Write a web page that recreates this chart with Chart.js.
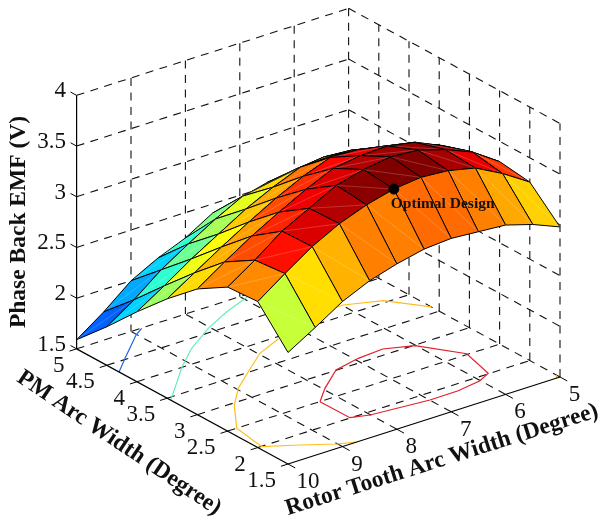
<!DOCTYPE html>
<html><head><meta charset="utf-8">
<script src="https://cdn.jsdelivr.net/npm/chart.js@4"></script>
<style>html,body{margin:0;padding:0;background:#fff}canvas{display:block}</style>
</head><body><canvas id="c" width="601" height="523"></canvas>
<script>
const rotorTicks=[10,9,8,7,6,5];
const pmTicks=[5,4.5,4,3.5,3,2.5,2,1.5];
const zTicks=[1.5,2,2.5,3,3.5,4];
const rotorGrid=[10,9.5,9,8.5,8,7.5,7,6.5,6,5.5,5];
const pmGrid=[5,4.5,4,3.5,3,2.5,2,1.5];
const emfPm50=[1.59,1.78,2.00,2.14,2.25,2.41,2.47,2.54,2.57,2.61,2.58];
const emfPm45=[1.88,2.06,2.27,2.44,2.60,2.74,2.79,2.84,2.87,2.85,2.79];
const emfPm40=[2.19,2.36,2.54,2.70,2.86,2.99,3.10,3.11,3.09,3.04,2.99];
const emfPm35=[2.48,2.65,2.82,2.98,3.13,3.26,3.36,3.35,3.30,3.24,3.14];
const emfPm30=[2.74,2.92,3.09,3.24,3.38,3.50,3.54,3.55,3.50,3.38,3.24];
const emfPm25=[2.92,3.10,3.30,3.44,3.58,3.65,3.69,3.67,3.59,3.48,3.30];
const emfPm20=[2.94,3.13,3.31,3.45,3.55,3.62,3.65,3.63,3.57,3.43,3.26];
const emfPm15=[2.60,2.76,2.93,3.05,3.13,3.19,3.21,3.19,3.17,3.09,2.98];
const emf=[emfPm50,emfPm45,emfPm40,emfPm35,emfPm30,emfPm25,emfPm20,emfPm15];
const colorRow1=[.22,.29,.33,.42,.50,.56,.60,.62,.63,.63];
const colorRow2=[.33,.42,.48,.54,.60,.66,.70,.72,.73,.72];
const colorRow3=[.53,.61,.625,.68,.71,.76,.80,.82,.82,.80];
const colorRow4=[.66,.70,.72,.80,.83,.87,.90,.91,.90,.87];
const colorRow5=[.74,.80,.84,.89,.91,.95,.97,.98,.96,.90];
const colorRow6=[.74,.86,.91,.95,.99,1,1,.96,.90,.82];
const colorRow7=[.57,.657,.70,.75,.75,.77,.77,.75,.71,.67];
const colorLevels=[colorRow1,colorRow2,colorRow3,colorRow4,colorRow5,colorRow6,colorRow7];
const contourRed=[[8.305,2.497],[7.963,2.723],[7.446,3.006],[6.939,3.093],[6.458,3.122],[6.014,2.987],[5.586,2.517],[5.753,2.01],[6.006,1.919],[6.47,1.861],[6.995,1.856],[8.008,1.936],[8.298,2.007],[8.305,2.497]];
const contourAmberA=[[7.455,3.953],[7.971,3.792],[8.498,3.511],[8.966,3.254],[9.368,2.959],[9.835,2.498],[9.937,1.992],[9.457,1.79],[9.011,1.585],[8.743,1.5]];
const contourAmberB=[[6.165,4.205],[5.98,4.206],[5.424,4.043],[5,3.63]];
const contourAmberC=[[5.07,1.5],[5,1.56]];
const contourCyan=[[10,3.44],[9.16,4.01],[8.655,4.306],[8.038,4.587],[7.472,4.791],[6.934,4.945]];
const contourBlue=[[10,4.297],[9.64,4.522],[9.017,4.901],[8.81,4.995]];
const optimal=[7.5,2,3.62];
const optimalLabel="Optimal Design";
const zTitle="Phase Back EMF (V)",pmTitle="PM Arc Width (Degree)",rotorTitle="Rotor Tooth Arc Width (Degree)";

const proj=(r,pm,z)=>({x:288+(10-r)*54.4-(pm-1.5)*60.4,y:464-(10-r)*17.4-(pm-1.5)*32.9-(z-1.5)*101.4});
function jet(t){const c=v=>Math.round(255*Math.max(0,Math.min(1,v)));
 return `rgb(${c(Math.min(4*t-1.5,-4*t+4.5))},${c(Math.min(4*t-.5,-4*t+3.5))},${c(Math.min(4*t+.5,-4*t+2.5))})`;}
const ln=(pts,o)=>Object.assign({data:pts,showLine:true,pointRadius:0,borderColor:'#000',borderWidth:1,tension:0,fill:false,clip:false},o);
const dash={borderDash:[8,6.5],borderColor:'#111',borderWidth:1.1};
const ds=[];
for(const z of zTicks.slice(1)){
 ds.push(ln([proj(10,5,z),proj(5,5,z)],dash));
 ds.push(ln([proj(5,5,z),proj(5,1.5,z)],dash));
}
for(const r of rotorTicks.slice(1)){
 ds.push(ln([proj(r,5,4),proj(r,5,1.5)],dash));
 ds.push(ln([proj(r,1.5,1.5),proj(r,5,1.5)],dash));
}
for(const p of pmTicks.slice(1)){
 ds.push(ln([proj(5,p,1.5),proj(5,p,4)],dash));
}
for(const p of pmTicks.slice(0,-1)){
 ds.push(ln([proj(10,p,1.5),proj(5,p,1.5)],dash));
}
const cOn=(arr,col)=>ds.push(ln(arr.map(a=>proj(a[0],a[1],1.5)),{borderColor:col,borderWidth:1.2}));
cOn(contourRed,'#e0202a');cOn(contourAmberA,'#ffbe1e');cOn(contourAmberB,'#ffbe1e');cOn(contourAmberC,'#ffbe1e');
cOn(contourCyan,'#62f0b4');cOn(contourBlue,'#1e64e6');
ds.push(ln([proj(10,5,1.5),proj(10,5,4)],{borderWidth:1.2}));
ds.push(ln([proj(10,5,1.5),proj(10,1.5,1.5)],{borderWidth:1.2}));
ds.push(ln([proj(10,1.5,1.5),proj(5,1.5,1.5)],{borderWidth:1.2}));
for(const z of zTicks)ds.push(ln([proj(10,5,z),proj(10,5.1,z)]));
for(const p of pmTicks)ds.push(ln([proj(10,p,1.5),proj(10.13,p,1.5)]));
for(const r of rotorTicks)ds.push(ln([proj(r,1.5,1.5),proj(r,1.38,1.5)]));
for(let jr=rotorGrid.length-2;jr>=0;jr--){
 for(let ip=0;ip<pmGrid.length-1;ip++){
  const a=proj(rotorGrid[jr],pmGrid[ip],emf[ip][jr]),
        b=proj(rotorGrid[jr+1],pmGrid[ip],emf[ip][jr+1]),
        c=proj(rotorGrid[jr+1],pmGrid[ip+1],emf[ip+1][jr+1]),
        d=proj(rotorGrid[jr],pmGrid[ip+1],emf[ip+1][jr]);
  const col=jet(colorLevels[ip][jr]);
  ds.push(ln([a,b,c,d,a],{backgroundColor:col,fill:'shape',borderColor:'#000',borderWidth:1}));
  ds.push(ln([a,c],{borderColor:'rgba(255,255,255,0.28)',borderWidth:0.7}));
 }
}
ds.push({data:[proj(...optimal)],pointRadius:5,pointBackgroundColor:'#000',pointBorderColor:'#000',showLine:false,clip:false});
ds.reverse();

const labels={id:'labels',afterDraw(ch){
 const g=ch.ctx,X=ch.scales.x,Y=ch.scales.y;
 const P=p=>({x:X.getPixelForValue(p.x),y:Y.getPixelForValue(p.y)});
 g.save();g.fillStyle='#111';g.textBaseline='middle';
 g.font='23px "Liberation Serif"';
 g.textAlign='right';
 for(const z of zTicks){const p=P(proj(10,5,z));g.fillText(String(z),p.x-10.5,p.y-4);}
 for(const m of pmTicks){const p=P(proj(10,m,1.5));g.fillText(String(m),p.x-12,p.y+17);}
 g.textAlign='center';
 for(const r of rotorTicks){const p=P(proj(r,1.5,1.5));g.fillText(String(r),p.x+(r===10?20:14.5),p.y+18);}
 const T=(s,x,y,a,f)=>{g.save();g.translate(x,y);g.rotate(a*Math.PI/180);g.font=f;g.textAlign='center';g.fillText(s,0,0);g.restore();};
 const bold='bold 23.5px "Liberation Serif"';
 T(zTitle,19,222,-90,bold);
 T(pmTitle,119,443,34,bold);
 T(rotorTitle,442,460,-17.6,bold);
 const o=P(proj(...optimal));
 g.fillStyle='#111';g.font='bold 15.5px "Liberation Serif"';g.textAlign='left';
 g.fillText(optimalLabel,o.x-3,o.y+15);
 g.restore();
}};
new Chart(document.getElementById('c'),{type:'scatter',data:{datasets:ds},plugins:[labels],options:{
 responsive:false,animation:false,layout:{padding:0,autoPadding:false},
 plugins:{legend:{display:false},title:{display:false},tooltip:{enabled:false}},
 scales:{x:{type:'linear',min:0,max:601,display:false},y:{type:'linear',min:0,max:523,reverse:true,display:false}}
}});
</script></body></html>
